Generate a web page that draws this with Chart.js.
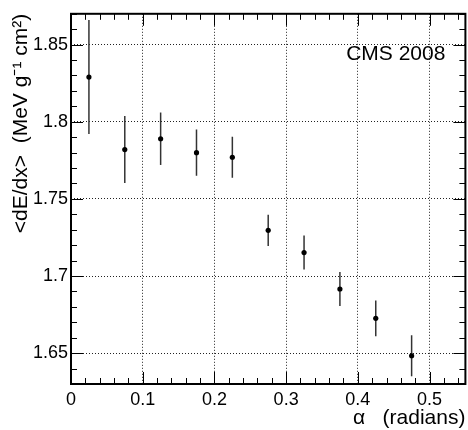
<!DOCTYPE html>
<html>
<head>
<meta charset="utf-8">
<script src="https://cdn.jsdelivr.net/npm/chart.js@4/dist/chart.umd.min.js"></script>
<style>
  html, body { margin: 0; padding: 0; background: #fff; }
  canvas { display: block; }
</style>
</head>
<body>
<canvas id="c" width="468" height="430"></canvas>
<script>
// ---- data ----
const alphaValues = [0.025, 0.075, 0.125, 0.175, 0.225, 0.275, 0.325, 0.375, 0.425, 0.475];
const dedxValues  = [1.829, 1.782, 1.789, 1.780, 1.777, 1.7296, 1.7152, 1.6916, 1.6726, 1.6483];
const dedxErrors  = [0.037, 0.0217, 0.017, 0.015, 0.0133, 0.0101, 0.011, 0.011, 0.0116, 0.0133];
const xTickValues = [0, 0.1, 0.2, 0.3, 0.4, 0.5];
const yTickValues = [1.65, 1.7, 1.75, 1.8, 1.85];
const xTitle = 'α   (radians)';
const yTitle = '<dE/dx>  (MeV g⁻¹ cm²)';
const labelText = 'CMS 2008';

const FONT = '"Liberation Sans", Arial, Helvetica, sans-serif';
Chart.defaults.font.family = FONT;
Chart.defaults.color = '#000';

const fmt = v => String(+Number(v).toFixed(3));

const decorPlugin = {
  id: 'decor',
  beforeDatasetsDraw(chart) {
    const ctx = chart.ctx;
    const xs = chart.scales.x, ys = chart.scales.y;
    ctx.save();
    ctx.strokeStyle = '#333';
    ctx.lineWidth = 1.5;
    for (let i = 0; i < alphaValues.length; i++) {
      const px = xs.getPixelForValue(alphaValues[i]);
      const y1 = ys.getPixelForValue(dedxValues[i] + dedxErrors[i]);
      const y2 = ys.getPixelForValue(dedxValues[i] - dedxErrors[i]);
      ctx.beginPath();
      ctx.moveTo(px, y1);
      ctx.lineTo(px, y2);
      ctx.stroke();
    }
    ctx.restore();
  },
  afterDatasetsDraw(chart) {
    const ctx = chart.ctx;
    const a = chart.chartArea;
    const xs = chart.scales.x, ys = chart.scales.y;
    ctx.save();
    // tick marks (inward on all four sides)
    ctx.strokeStyle = '#000';
    ctx.lineWidth = 1;
    const major = 12, minor = 6;
    for (let k = 0; k <= 27; k++) {
      const v = k * 0.02;
      const px = Math.round(xs.getPixelForValue(v)) + 0.5;
      if (px < a.left || px > a.right) continue;
      const len = (k % 5 === 0) ? major : minor;
      ctx.beginPath();
      ctx.moveTo(px, a.bottom); ctx.lineTo(px, a.bottom - len);
      ctx.moveTo(px, a.top); ctx.lineTo(px, a.top + len);
      ctx.stroke();
    }
    for (let k = 163; k <= 187; k++) {
      const v = k * 0.01;
      const py = Math.round(ys.getPixelForValue(v)) + 0.5;
      if (py < a.top || py > a.bottom) continue;
      const len = (k % 5 === 0) ? major : minor;
      ctx.beginPath();
      ctx.moveTo(a.left, py); ctx.lineTo(a.left + len, py);
      ctx.moveTo(a.right, py); ctx.lineTo(a.right - len, py);
      ctx.stroke();
    }
    // frame
    ctx.lineWidth = 2;
    ctx.strokeRect(a.left, a.top, a.right - a.left, a.bottom - a.top);
    // CMS label
    ctx.fillStyle = '#000';
    ctx.font = '21px ' + FONT;
    ctx.textAlign = 'right';
    ctx.textBaseline = 'alphabetic';
    ctx.fillText(labelText, a.right - 20, a.top + 46);
    ctx.restore();
  }
};

new Chart(document.getElementById('c'), {
  type: 'scatter',
  data: {
    datasets: [{
      data: alphaValues.map((x, i) => ({ x: x, y: dedxValues[i] })),
      pointRadius: 2.6,
      pointHoverRadius: 2.6,
      backgroundColor: '#000',
      borderWidth: 0
    }]
  },
  options: {
    responsive: false,
    devicePixelRatio: 1,
    animation: false,
    layout: { padding: { top: 7, right: 1, left: 0, bottom: 0 } },
    plugins: { legend: { display: false }, tooltip: { enabled: false } },
    scales: {
      x: {
        type: 'linear',
        min: 0, max: 0.55,
        afterBuildTicks: s => { s.ticks = xTickValues.map(v => ({ value: v })); },
        afterFit: s => { s.height = 46; },
        ticks: { callback: fmt, autoSkip: false, maxRotation: 0, padding: 5,
                 font: { size: 18, lineHeight: 1.2 }, color: '#000' },
        grid: { color: '#222', lineWidth: 1, drawTicks: false },
        border: { display: false, dash: [1, 2] },
        title: { display: true, text: xTitle, align: 'end', color: '#000',
                 font: { size: 21, lineHeight: 1.1 }, padding: { top: 0, bottom: 0 } }
      },
      y: {
        type: 'linear',
        min: 1.63, max: 1.87,
        afterBuildTicks: s => { s.ticks = yTickValues.map(v => ({ value: v })); },
        afterFit: s => { s.width = 71; },
        ticks: { callback: fmt, autoSkip: false, padding: 3,
                 font: { size: 18, lineHeight: 1.2 }, color: '#000' },
        grid: { color: '#222', lineWidth: 1, drawTicks: false },
        border: { display: false, dash: [1, 2] },
        title: { display: true, text: yTitle, align: 'end', color: '#000',
                 font: { size: 21, lineHeight: 1.1 }, padding: { top: 10, bottom: 0 } }
      }
    }
  },
  plugins: [decorPlugin]
});
</script>
</body>
</html>
